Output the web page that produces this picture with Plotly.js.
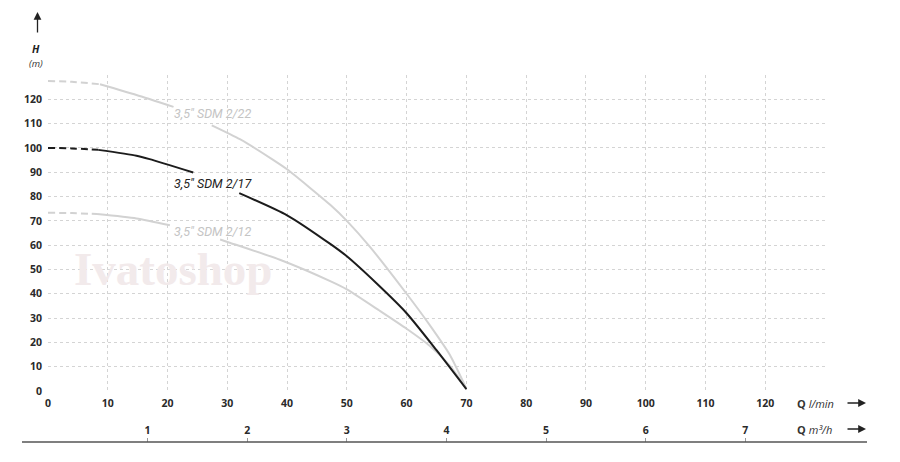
<!DOCTYPE html>
<html>
<head>
<meta charset="utf-8">
<script src="https://cdn.plot.ly/plotly-3.0.1.min.js"></script>
<style>html,body{margin:0;padding:0;background:#fff;}#chart{width:900px;height:462px;}</style>
</head>
<body>
<div id="chart"></div>
<script>
// ---- data (Q in l/min, H in m) ----
const modelNames = ['3,5" SDM 2/22', '3,5" SDM 2/17', '3,5" SDM 2/12'];

// SDM 2/22
const q22Dash = [0, 4, 8.7];
const h22Dash = [127.5, 127.2, 126.2];
const q22 = [8.7, 14.8, 21, null, 27.4, 32.1, 37.6, 40, 47.4, 50, 53.8, 60, 63.9, 67.2, 70];
const h22 = [126.2, 121.8, 116.9, null, 109.3, 103.6, 95.2, 91.2, 76.2, 70, 59.5, 40, 27, 15, 1];

// SDM 2/17
const q17Dash = [0, 4, 8.4];
const h17Dash = [100, 99.8, 99.2];
const q17 = [8.4, 14.8, 17, 24.3, null, 32, 40, 47.4, 50, 55, 60, 65, 70];
const h17 = [99.2, 96.8, 95.4, 89.9, null, 81.4, 72.3, 60.2, 55.4, 44.2, 32, 16.8, 0.8];

// SDM 2/12
const q12Dash = [0, 4, 8.2];
const h12Dash = [73.3, 73.2, 72.8];
const q12 = [8.2, 14.8, 20.4, null, 28.8, 30.4, 38.8, 47.4, 50, 55.5, 60, 63.9, 67.2, 70];
const h12 = [72.8, 71, 68.2, null, 62.3, 61, 54, 45, 41.8, 33, 25.6, 18.5, 10.5, 1];

// label anchor positions (data coords)
const labelQ = [27.5, 27.6, 27.5];
const labelH = [114.3, 85.3, 65.5];

// axis ticks
const qTicks = [0, 10, 20, 30, 40, 50, 60, 70, 80, 90, 100, 110, 120, 130];
const qTickText = ['0','10','20','30','40','50','60','70','80','90','100','110','120',''];
const hTicks = [0, 10, 20, 30, 40, 50, 60, 70, 80, 90, 100, 110, 120, 130];
const hTickText = ['0','10','20','30','40','50','60','70','80','90','100','110','120',''];
const m3hTicks = [1, 2, 3, 4, 5, 6, 7];
const m3hTickText = ['1','2','3','4','5','6','7'];
const qMax = 130;               // l/min
const m3hMax = qMax * 60 / 1000; // same range in m3/h

// ---- styles ----
const grey = '#d2d2d2';
const black = '#1c1c1c';
const dashPat = '7px,4px';

const W = 900, H = 462, ML = 48, MR = 75, MT = 75, MB = 20;
const PW = W - ML - MR, PH = H - MT - MB;
const px = v => (v - ML) / PW;          // pixel -> paper x
const py = v => (H - MB - v) / PH;      // pixel -> paper y
const plotBottom = 391;

function tr(x, y, color, dash) {
  return {x: x, y: y, type: 'scatter', mode: 'lines', hoverinfo: 'skip', showlegend: false,
          line: {color: color, width: 2, shape: 'spline', smoothing: 0.6, dash: dash || 'solid'},
          connectgaps: false};
}

const data = [
  tr(q22Dash, h22Dash, grey, dashPat), tr(q22, h22, grey),
  tr(q12Dash, h12Dash, grey, dashPat), tr(q12, h12, grey),
  tr(q17Dash, h17Dash, black, dashPat), tr(q17, h17, black),
  {x: m3hTicks, y: m3hTicks.map(() => null), xaxis: 'x2', type: 'scatter', mode: 'markers',
   hoverinfo: 'skip', showlegend: false}
];

const tickFont = {family: 'Open Sans, sans-serif', size: 10.5, color: '#2a2a2a', weight: 700};
const labelColors = ['#c4c4c4', '#222', '#c4c4c4'];

const annotations = [];
// watermark (first, so it sits under the other texts)
annotations.push({x: px(173), y: py(269), xref: 'paper', yref: 'paper', xanchor: 'center', yanchor: 'middle',
  text: 'Ivatoshop', showarrow: false,
  font: {family: 'Liberation Serif, serif', size: 47, weight: 700, color: '#f2eaeb'}});
for (let i = 0; i < modelNames.length; i++) {
  annotations.push({x: labelQ[i], y: labelH[i], xref: 'x', yref: 'y', xanchor: 'center', yanchor: 'middle',
    text: modelNames[i], showarrow: false,
    font: {family: 'Roboto, sans-serif', size: 12.5, style: 'italic', color: labelColors[i]}});
}
// H (m)
annotations.push({x: px(36), y: py(49), xref: 'paper', yref: 'paper', xanchor: 'center', yanchor: 'middle',
  text: '<b><i>H</i></b>', showarrow: false, borderpad: 0,
  font: {family: 'Open Sans, sans-serif', size: 10.5, color: '#222'}});
annotations.push({x: px(36), y: py(64), xref: 'paper', yref: 'paper', xanchor: 'center', yanchor: 'middle',
  text: '<i>(m)</i>', showarrow: false, borderpad: 0,
  font: {family: 'Open Sans, sans-serif', size: 9.5, color: '#333'}});
// vertical arrow
annotations.push({x: px(37.5), y: py(12), xref: 'paper', yref: 'paper', text: '', showarrow: true,
  ax: 0, ay: 22, arrowhead: 2, arrowsize: 1.2, arrowwidth: 1.3, arrowcolor: '#222'});
// Q l/min
annotations.push({x: px(795), y: py(403), xref: 'paper', yref: 'paper', xanchor: 'left', yanchor: 'middle',
  text: '<b>Q</b> <i>l/min</i>', showarrow: false,
  font: {family: 'Open Sans, sans-serif', size: 11, color: '#333'}});
annotations.push({x: px(866), y: py(403), xref: 'paper', yref: 'paper', text: '', showarrow: true,
  ax: -20, ay: 0, arrowhead: 2, arrowsize: 1.2, arrowwidth: 1.3, arrowcolor: '#222'});
// Q m3/h
annotations.push({x: px(795), y: py(429), xref: 'paper', yref: 'paper', xanchor: 'left', yanchor: 'middle',
  text: '<b>Q</b> <i>m³/h</i>', showarrow: false,
  font: {family: 'Open Sans, sans-serif', size: 11, color: '#333'}});
annotations.push({x: px(866), y: py(429), xref: 'paper', yref: 'paper', text: '', showarrow: true,
  ax: -20, ay: 0, arrowhead: 2, arrowsize: 1.2, arrowwidth: 1.3, arrowcolor: '#222'});

const layout = {
  width: W, height: H,
  margin: {l: ML, r: MR, t: MT, b: MB, pad: 0},
  paper_bgcolor: '#fff', plot_bgcolor: '#fff',
  showlegend: false,
  xaxis: {range: [0, qMax], tickmode: 'array', tickvals: qTicks, ticktext: qTickText,
          showgrid: true, gridcolor: '#d4d4d4', griddash: 'dot', gridwidth: 1,
          zeroline: false, showline: false, ticks: '', tickfont: tickFont, ticklabelstandoff: 4,
          anchor: 'y', fixedrange: true},
  xaxis2: {range: [0, m3hMax], overlaying: 'x', anchor: 'free', position: 0, side: 'top',
           tickmode: 'array', tickvals: m3hTicks, ticktext: m3hTickText,
           showgrid: false, zeroline: false, showline: false,
           ticks: 'outside', ticklen: 4, tickwidth: 1, tickcolor: '#999', tickfont: tickFont},
  yaxis: {range: [0, 130], domain: [(H - MB - plotBottom) / PH, 1], tickmode: 'array',
          tickvals: hTicks, ticktext: hTickText,
          showgrid: true, gridcolor: '#d4d4d4', griddash: 'dot', gridwidth: 1,
          zeroline: false, showline: false, ticks: '', tickfont: tickFont, ticklabelstandoff: 5,
          fixedrange: true},
  shapes: [
    {type: 'line', xref: 'paper', yref: 'paper', x0: px(22), x1: px(867), y0: 0, y1: 0,
     line: {color: '#555', width: 1.5}}
  ],
  annotations: annotations
};

Plotly.newPlot('chart', data, layout, {staticPlot: true, displayModeBar: false});
</script>
</body>
</html>
